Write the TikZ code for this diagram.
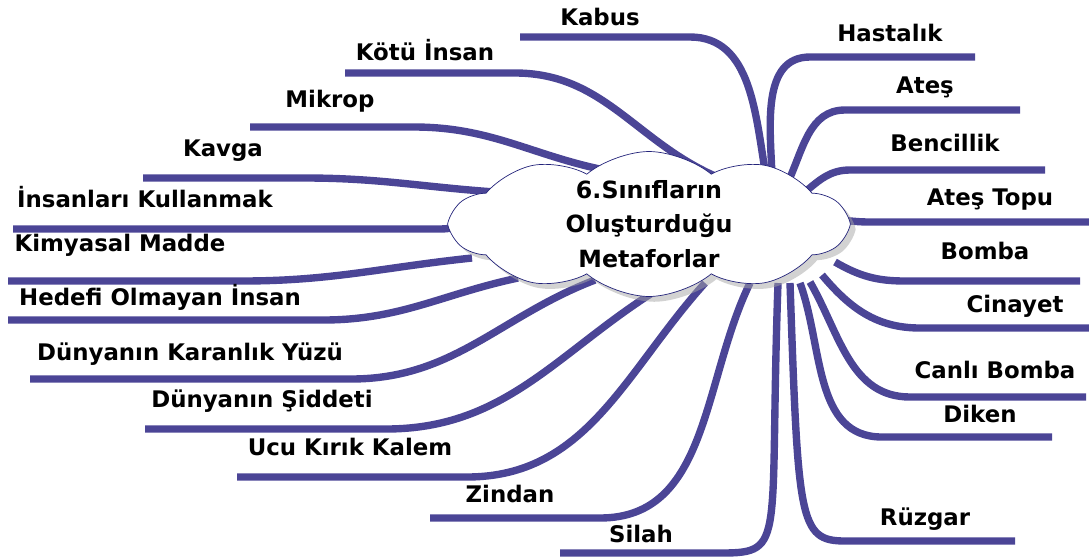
\documentclass[tikz,border=0pt]{standalone}
\usepackage{fontspec}
\setmainfont{DejaVu Sans}
\usetikzlibrary{shapes.symbols,shadows}
\definecolor{branchblue}{HTML}{4B4596}
\definecolor{cloudline}{HTML}{23237A}

\begin{document}
\begin{tikzpicture}[x=0.02cm,y=0.02cm,
  branch/.style={draw=branchblue,line width=4.2pt},
  metafor/.style={font=\bfseries\fontsize{13}{15}\selectfont,inner sep=0pt},
  bulut/.style={cloud,cloud puffs=10,cloud puff arc=80,cloud ignores aspect,draw=cloudline,fill=white,thin,
    minimum width=7.9cm,minimum height=2.9cm,inner sep=0pt,align=center,
    drop shadow={shadow xshift=3pt,shadow yshift=-3pt,fill=black!35},
    font=\bfseries\fontsize{13.5}{19.5}\selectfont}]
\useasboundingbox (0,0) rectangle (1089,-559);

% branches to the left
\foreach \nm/\sx/\sy/\ang/\kx/\ky/\ex/\lo/\li in {kabus/766/176/100/690/37/520/1/1,
  kotu/715/176/156/515/73/345/1/1, mikrop/615/172/170/414/127/250/1/1,
  kavga/495/192/176/305/178/143/1/1, insanlari/470/226/180/440/229/13/1/1,
  kimyasal/472/258/186/242/281/8/1/1, hedefi/518/278/192/323/320/8/1/1,
  karanlik/595/280/201/351/379/30/1/1, siddeti/665/285/211/386/429/145/1/1,
  kalem/705/283/228/467/477/237/1/1, zindan/750/283/244/600/518/430/1/1,
  silah/778/283/268/722/553/560/2.4/0.6}
{ \coordinate (s-\nm) at (\sx,-\sy);
  \coordinate (k-\nm) at (\kx,-\ky);
  \coordinate (e-\nm) at (\ex,-\ky);
  \draw[branch] (s-\nm) to[out=\ang,in=0,out looseness=\lo,in looseness=\li] (k-\nm) -- (e-\nm);}

% branches to the right
\foreach \nm/\sx/\sy/\ang/\kx/\ky/\ex/\lo/\li in {hastalik/772/176/92/810/57/975/1/1,
  ates/788/182/65/845/110/1020/1/1, bencillik/805/192/40/850/170/1045/1/1,
  topu/840/220/-5/870/222/1089/1/1, bomba/835/262/-30/905/281/1080/1/1,
  cinayet/822/275/-50/920/328/1089/1/1, canli/810/282/-60/910/397/1086/1/1,
  diken/800/283/-70/882/437/1052/1/1, ruzgar/790/283/-88/845/541/1015/2.3/0.45}
{ \coordinate (s-\nm) at (\sx,-\sy);
  \coordinate (k-\nm) at (\kx,-\ky);
  \coordinate (e-\nm) at (\ex,-\ky);
  \draw[branch] (s-\nm) to[out=\ang,in=180,out looseness=\lo,in looseness=\li] (k-\nm) -- (e-\nm);}

\node[bulut] (merkez) at (649,-224) {6.Sınıfların\\Oluşturduğu\\Metaforlar};

% labels
\foreach \nm/\txt/\lx/\ly in {kabus/Kabus/600/17, kotu/Kötü İnsan/425/50,
  mikrop/Mikrop/330/101, kavga/Kavga/223/151,
  insanlari/İnsanları Kullanmak/145/197, kimyasal/Kimyasal Madde/120/245,
  hedefi/Hedefi Olmayan İnsan/160/297, karanlik/Dünyanın Karanlık Yüzü/190/354,
  siddeti/Dünyanın Şiddeti/262/401, kalem/Ucu Kırık Kalem/350/447,
  zindan/Zindan/510/494, silah/Silah/641/534,
  hastalik/Hastalık/890/33, ates/Ateş/925/87, bencillik/Bencillik/945/143,
  topu/Ateş Topu/990/200, bomba/Bomba/985/251, cinayet/Cinayet/1015/306,
  canli/Canlı Bomba/995/370, diken/Diken/980/414, ruzgar/Rüzgar/925/519}
{ \node[metafor] (l-\nm) at (\lx,-\ly) {\txt};}
\end{tikzpicture}
\end{document}
